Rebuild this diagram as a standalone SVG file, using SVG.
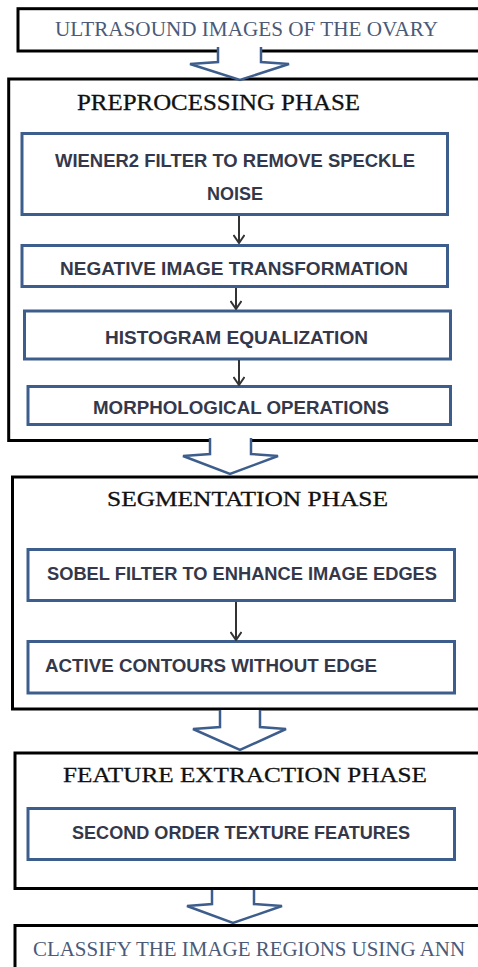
<svg xmlns="http://www.w3.org/2000/svg" width="478" height="967" viewBox="0 0 478 967">
<style>
.outer{fill:none;stroke:#000;stroke-width:3}
.inner{fill:#fff;stroke:#3d5e8c;stroke-width:3}
.blk{fill:#fff;stroke:#3d5e8c;stroke-width:2.5;stroke-linejoin:miter}
.title{font-family:"Liberation Serif","Times New Roman",serif;fill:#111;stroke:#111;stroke-width:0.3}
.soft{font-family:"Liberation Serif","Times New Roman",serif;fill:#4a5a78}
.lbl{font-family:"Liberation Sans",Arial,sans-serif;font-size:18px;font-weight:bold;fill:#34384a}
.conn{stroke:#333;stroke-width:2;fill:none}
</style>
<defs>
<marker id="v" viewBox="0 0 10 12" refX="9" refY="6" markerWidth="10" markerHeight="12" markerUnits="userSpaceOnUse" orient="auto">
<path d="M1,0.5 L9,6 L1,11.5" fill="none" stroke="#333" stroke-width="2"/>
</marker>
</defs>
<g id="n-ultrasound">
<rect class="outer" x="18" y="8.7" width="480" height="42.3"/>
<text class="soft" x="55" y="36" font-size="20" textLength="383" lengthAdjust="spacingAndGlyphs">ULTRASOUND IMAGES OF THE OVARY</text>
</g>
<g id="n-preprocessing">
<rect class="outer" x="8.7" y="79" width="490" height="361.5"/>
<text class="title" x="77" y="110" font-size="24" textLength="283" lengthAdjust="spacingAndGlyphs">PREPROCESSING PHASE</text>
</g>
<g id="n-wiener">
<rect class="inner" x="22" y="133.5" width="425.5" height="81"/>
<text class="lbl" x="55" y="166.5" textLength="360" lengthAdjust="spacingAndGlyphs">WIENER2 FILTER TO REMOVE SPECKLE</text>
<text class="lbl" x="207" y="199.5" textLength="56" lengthAdjust="spacingAndGlyphs">NOISE</text>
</g>
<g id="n-negative">
<rect class="inner" x="22" y="245.5" width="425.5" height="41"/>
<text class="lbl" x="60" y="274.5" textLength="348" lengthAdjust="spacingAndGlyphs">NEGATIVE IMAGE TRANSFORMATION</text>
</g>
<g id="n-histogram">
<rect class="inner" x="24.5" y="311" width="426" height="48"/>
<text class="lbl" x="105" y="343.5" textLength="263" lengthAdjust="spacingAndGlyphs">HISTOGRAM EQUALIZATION</text>
</g>
<g id="n-morph">
<rect class="inner" x="28" y="386.5" width="422.5" height="38"/>
<text class="lbl" x="93" y="413.5" textLength="296" lengthAdjust="spacingAndGlyphs">MORPHOLOGICAL OPERATIONS</text>
</g>
<g id="n-segmentation">
<rect class="outer" x="12.5" y="477" width="490" height="232"/>
<text class="title" x="107" y="506" font-size="22" textLength="281" lengthAdjust="spacingAndGlyphs">SEGMENTATION PHASE</text>
</g>
<g id="n-sobel">
<rect class="inner" x="28" y="549.5" width="426.5" height="51"/>
<text class="lbl" x="47" y="579.5" textLength="390" lengthAdjust="spacingAndGlyphs">SOBEL FILTER TO ENHANCE IMAGE EDGES</text>
</g>
<g id="n-active">
<rect class="inner" x="28" y="641.5" width="426.5" height="51.5"/>
<text class="lbl" x="45" y="671.5" textLength="332" lengthAdjust="spacingAndGlyphs">ACTIVE CONTOURS WITHOUT EDGE</text>
</g>
<g id="n-feature">
<rect class="outer" x="15" y="753" width="490" height="135.5"/>
<text class="title" x="63" y="782" font-size="22" textLength="364" lengthAdjust="spacingAndGlyphs">FEATURE EXTRACTION PHASE</text>
</g>
<g id="n-second">
<rect class="inner" x="28" y="808.5" width="426.5" height="51"/>
<text class="lbl" x="72" y="838.5" textLength="338" lengthAdjust="spacingAndGlyphs">SECOND ORDER TEXTURE FEATURES</text>
</g>
<g id="n-classify">
<rect class="outer" x="15" y="925.5" width="490" height="60"/>
<text class="soft" x="33" y="956" font-size="20" textLength="432" lengthAdjust="spacingAndGlyphs">CLASSIFY THE IMAGE REGIONS USING ANN</text>
</g>
<g id="connectors">
<path class="blk" d="M218,47 L218,62 L190,64 L240,80 L289,64 L261,62 L261,47"/>
<path class="blk" d="M210,438 L210,454 L183,456 L230,474 L278,456 L251,454 L251,438"/>
<path class="blk" d="M220,710 L220,727 L193,729 L240,750 L286,729 L260,727 L260,710"/>
<path class="blk" d="M212,890 L212,904 L187,906 L233,923 L282,906 L254,904 L254,890"/>
<line class="conn" x1="239" y1="216" x2="239" y2="243" marker-end="url(#v)"/>
<line class="conn" x1="236" y1="288" x2="236" y2="309" marker-end="url(#v)"/>
<line class="conn" x1="239" y1="360" x2="239" y2="385" marker-end="url(#v)"/>
<line class="conn" x1="236" y1="602" x2="236" y2="640" marker-end="url(#v)"/>
</g>
</svg>
